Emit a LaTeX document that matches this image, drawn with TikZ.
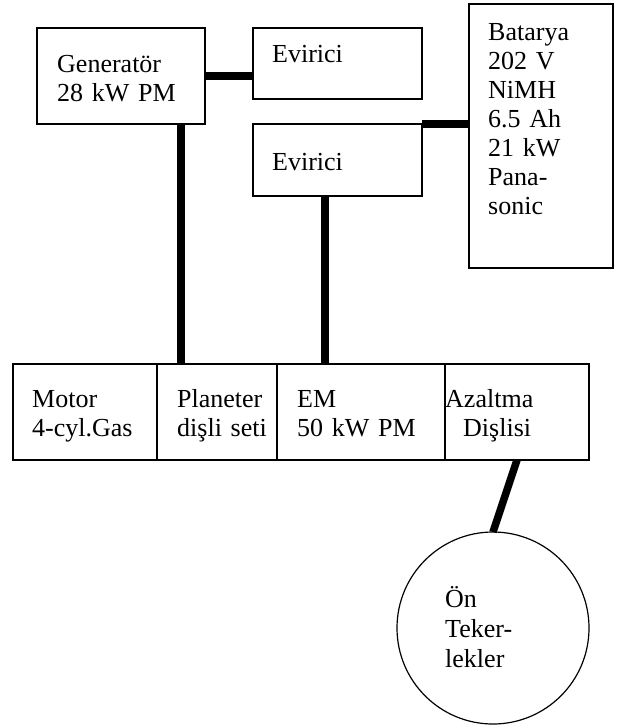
\documentclass[tikz,border=0pt]{standalone}
\usepackage{fontspec}
\setmainfont{Liberation Serif}
\usetikzlibrary{positioning}

\begin{document}
\begin{tikzpicture}[x=1pt,y=-1pt,
	box/.style={draw,line width=1.2pt,rectangle,inner sep=0pt,outer sep=0pt},
	lbl/.style={anchor=base west,inner sep=0pt,text width=150pt,align=left,font=\fontsize{26}{29}\selectfont},
	shaft/.style={line width=7.5pt}]
	\useasboundingbox (0,0) rectangle (619,725);
	% upper row
	\node[box,anchor=north west,minimum width=168pt,minimum height=96pt] (gen) at (37,28) {};
	\node[box,anchor=north west,minimum width=169pt,minimum height=71pt] (ev1) at (253,28) {};
	\node[box,anchor=north west,minimum width=169pt,minimum height=72pt] (ev2) at (253,124) {};
	\node[box,anchor=north west,minimum width=144pt,minimum height=264pt] (bat) at (469,4) {};
	% drive line
	\node[box,anchor=north west,minimum width=144pt,minimum height=96pt] (mot) at (13,364) {};
	\node[box,right=0pt of mot,minimum width=120pt,minimum height=96pt] (pla) {};
	\node[box,right=0pt of pla,minimum width=168pt,minimum height=96pt] (em) {};
	\node[box,right=0pt of em,minimum width=144pt,minimum height=96pt] (azd) {};
	\node[box,circle,minimum size=192pt] (wheel) at (493,628) {};
	% texts
	\node[lbl] (gentxt) at ([xshift=20pt,yshift=-44pt]gen.north west) {Generatör\\28 kW PM};
	\node[lbl] (ev1txt) at ([xshift=19pt,yshift=-35pt]ev1.north west) {Evirici};
	\node[lbl] (ev2txt) at ([xshift=19pt,yshift=-46pt]ev2.north west) {Evirici};
	\node[lbl] (battxt) at ([xshift=19pt,yshift=-37pt]bat.north west) {Batarya\\202 V\\NiMH\\6.5 Ah\\21 kW\\Pana-\\sonic};
	\node[lbl] (mottxt) at ([xshift=19pt,yshift=-43pt]mot.north west) {Motor\\4-cyl.Gas};
	\node[lbl] (platxt) at ([xshift=20pt,yshift=-43pt]pla.north west) {Planeter\\dişli seti};
	\node[lbl] (emtxt) at ([xshift=20pt,yshift=-43pt]em.north west) {EM\\50 kW PM};
	\node[lbl] (azdtxt) at ([yshift=-43pt]azd.north west) {Azaltma\\\hspace*{18pt}Dişlisi};
	\node[lbl,font=\fontsize{26}{30}\selectfont] (wheeltxt) at ([xshift=-48pt,yshift=21pt]wheel.center) {Ön\\Teker-\\lekler};
	% shafts
	\draw[shaft] (gen.east) -- (gen.east -| ev1.west);
	\coordinate (gdrop) at ([xshift=60pt]gen.south);
	\draw[shaft] (gdrop) -- (gdrop |- pla.north);
	\draw[shaft] (ev2.north east) -- (ev2.north east -| bat.west);
	\coordinate (edrop) at ([xshift=-12.5pt]ev2.south);
	\draw[shaft] (edrop) -- (edrop |- em.north);
	\draw[shaft] (azd.south) -- (wheel.north);
\end{tikzpicture}
\end{document}
